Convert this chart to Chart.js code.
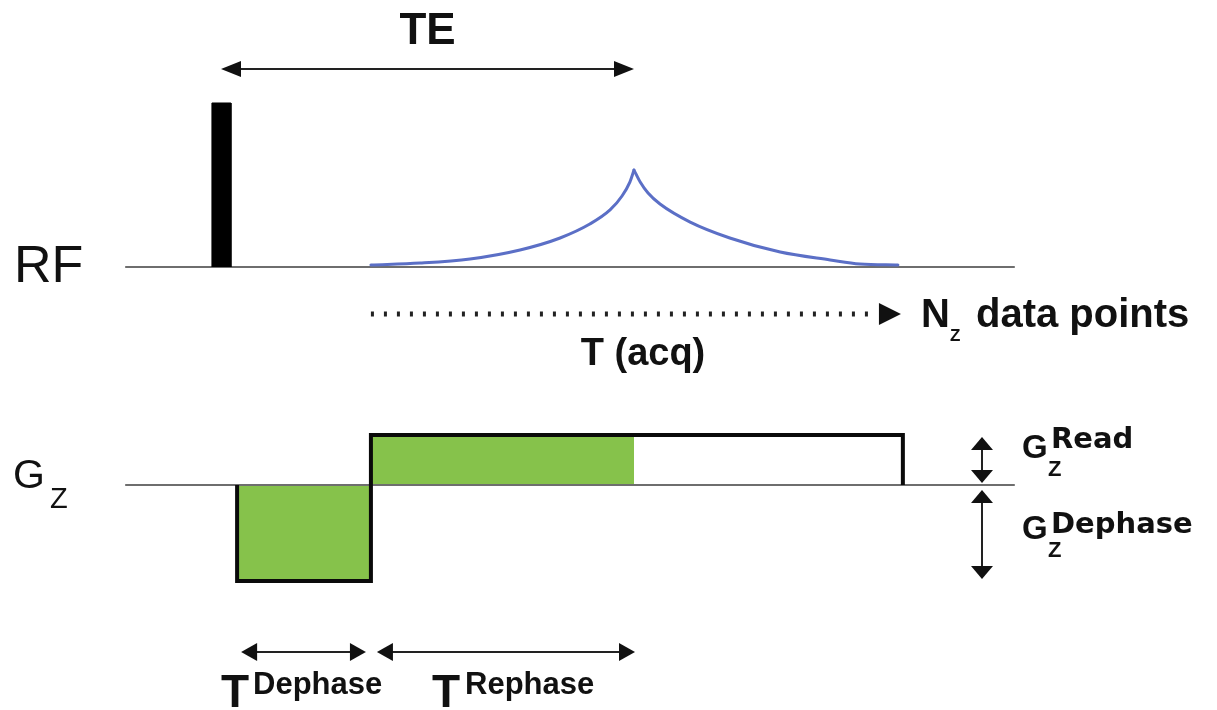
<!DOCTYPE html>
<html>
<head>
<meta charset="utf-8">
<script src="https://cdn.jsdelivr.net/npm/chart.js@4.4.0/dist/chart.umd.min.js"></script>
<style>
  html, body { margin: 0; padding: 0; background: #fff; }
  .wrap { width: 1217px; height: 710px; position: relative; }
</style>
</head>
<body>
<div class="wrap"><canvas id="seq"></canvas></div>
<script>
// times in ms (RF pulse at 0), RF in arbitrary units, gradient in mT/m
const TE = 10

const baselineT = [-2.32, 19.22]
const rfPulseT = [-0.22, -0.22, 0.24, 0.24]
const rfPulseA = [0, 1, 1, 0]

const echoRiseT = [3.63, 4.82, 6.03, 7.24, 8.21, 8.93, 9.42, 9.71, 9.90, 10.0]
const echoRiseA = [0.012, 0.024, 0.049, 0.104, 0.177, 0.262, 0.348, 0.433, 0.518, 0.591]
const echoFallT = [10.0, 10.15, 10.34, 10.63, 11.36, 12.32, 13.54, 14.75, 15.47, 16.39]
const echoFallA = [0.591, 0.518, 0.451, 0.384, 0.274, 0.177, 0.091, 0.043, 0.018, 0.012]

const acqT = [3.63, 16.39]
const acqLevel = -0.287

const gradT = [0.39, 0.39, 3.63, 3.63, 16.51, 16.51]
const gradA = [0, -19.2, -19.2, 10, 10, 0]
const dephaseFillT = [0.39, 0.39, 3.63, 3.63]
const dephaseFillA = [0, -19.2, -19.2, 0]
const rephaseFillT = [3.63, 3.63, TE, TE]
const rephaseFillA = [0, 10, 10, 0]

const G_READ = 10
const G_DEPHASE = -19.2

const toPts = (xs, ys) => xs.map((x, i) => ({x: x, y: ys[i]}))

const green = "#86c24b"
const gray = "#6e6e6e"
const blue = "#5b6fc6"
const FONT = '"Liberation Sans", Arial, sans-serif'
const WIDE = '"DejaVu Sans", Verdana, sans-serif'

function head(ctx, x, y, dx, dy, len, half) {
    // triangle with tip at (x,y) pointing in direction (dx,dy)
    ctx.beginPath()
    ctx.moveTo(x, y)
    ctx.lineTo(x - dx * len - dy * half, y - dy * len - dx * half)
    ctx.lineTo(x - dx * len + dy * half, y - dy * len + dx * half)
    ctx.closePath()
    ctx.fill()
}

function hArrow(ctx, x1, x2, y, len, half) {
    ctx.beginPath()
    ctx.moveTo(x1 + len - 2, y)
    ctx.lineTo(x2 - len + 2, y)
    ctx.stroke()
    head(ctx, x1, y, -1, 0, len, half)
    head(ctx, x2, y, 1, 0, len, half)
}

function vArrow(ctx, x, y1, y2, len, half) {
    ctx.beginPath()
    ctx.moveTo(x, y1 + len - 2)
    ctx.lineTo(x, y2 - len + 2)
    ctx.stroke()
    head(ctx, x, y1, 0, -1, len, half)
    head(ctx, x, y2, 0, 1, len, half)
}

function txt(ctx, s, x, y, font, align) {
    ctx.font = font
    ctx.textAlign = align || "left"
    ctx.textBaseline = "alphabetic"
    ctx.fillText(s, x, y)
}

const annotations = {
    id: "annotations",
    afterDatasetsDraw(chart) {
        const ctx = chart.ctx
        const x = chart.scales.x
        const yRF = chart.scales.yRF
        const yG = chart.scales.yG
        const px = v => x.getPixelForValue(v)

        ctx.save()
        ctx.strokeStyle = "#222"
        ctx.fillStyle = "#111"
        ctx.lineWidth = 2

        // TE arrow
        hArrow(ctx, px(0), px(TE), 69, 20, 8)
        txt(ctx, "TE", (px(0) + px(TE)) / 2, 44, "bold 44px " + FONT, "center")

        // acquisition window (dotted)
        const ay = yRF.getPixelForValue(acqLevel)
        ctx.save()
        ctx.setLineDash([3, 10])
        ctx.lineWidth = 5
        ctx.beginPath()
        ctx.moveTo(px(acqT[0]), ay)
        ctx.lineTo(px(acqT[1]) - 20, ay)
        ctx.stroke()
        ctx.restore()
        head(ctx, px(acqT[1]) + 3, ay, 1, 0, 22, 11)

        txt(ctx, "N", 921, 327, "bold 40px " + FONT)
        txt(ctx, "Z", 950, 341, "bold 17px " + FONT)
        txt(ctx, "data points", 976, 327, "bold 40px " + FONT)
        txt(ctx, "T (acq)", 643, 365, "bold 38px " + FONT, "center")

        // left labels
        txt(ctx, "RF", 14, 282, "52px " + FONT)
        txt(ctx, "G", 13, 488, "41px " + FONT)
        txt(ctx, "Z", 50, 508, "29px " + FONT)

        // timing arrows under gradient
        hArrow(ctx, px(dephaseFillT[0]) + 4, px(acqT[0]) - 5, 652, 16, 9)
        hArrow(ctx, px(acqT[0]) + 6, px(TE) + 1, 652, 16, 9)
        txt(ctx, "T", 221, 707, "bold 46px " + FONT)
        txt(ctx, "Dephase", 253, 694, "bold 31px " + FONT)
        txt(ctx, "T", 432, 707, "bold 46px " + FONT)
        txt(ctx, "Rephase", 465, 694, "bold 31px " + FONT)

        // gradient amplitude arrows
        const ax = 982
        vArrow(ctx, ax, yG.getPixelForValue(G_READ) + 2, yG.getPixelForValue(0) - 2, 13, 11)
        vArrow(ctx, ax, yG.getPixelForValue(0) + 5, yG.getPixelForValue(G_DEPHASE) - 2, 13, 11)

        txt(ctx, "G", 1022, 458, "bold 33px " + FONT)
        txt(ctx, "Z", 1048, 476, "bold 22px " + FONT)
        txt(ctx, "Read", 1051, 448, "bold 29px " + WIDE)
        txt(ctx, "G", 1022, 539, "bold 33px " + FONT)
        txt(ctx, "Z", 1048, 557, "bold 22px " + FONT)
        txt(ctx, "Dephase", 1051, 533, "bold 29px " + WIDE)

        ctx.restore()
    }
}

const lineBase = {pointRadius: 0, tension: 0, fill: false}
const echoStyle = {yAxisID: "yRF", borderColor: blue, borderWidth: 3, borderCapStyle: "round", cubicInterpolationMode: "monotone", order: 1}

new Chart(document.getElementById("seq"), {
    type: "line",
    data: {
        datasets: [
            {...lineBase, data: toPts(baselineT, [0, 0]), yAxisID: "yRF", borderColor: gray, borderWidth: 2, order: 4},
            {...lineBase, data: toPts(rfPulseT, rfPulseA), yAxisID: "yRF", borderColor: "#000", backgroundColor: "#000", borderWidth: 1, fill: "origin", order: 2},
            {...lineBase, ...echoStyle, data: toPts(echoRiseT, echoRiseA)},
            {...lineBase, ...echoStyle, data: toPts(echoFallT, echoFallA)},
            {...lineBase, data: toPts(dephaseFillT, dephaseFillA), yAxisID: "yG", borderWidth: 0, borderColor: green, backgroundColor: green, fill: "origin", order: 6},
            {...lineBase, data: toPts(rephaseFillT, rephaseFillA), yAxisID: "yG", borderWidth: 0, borderColor: green, backgroundColor: green, fill: "origin", order: 6},
            {...lineBase, data: toPts(baselineT, [0, 0]), yAxisID: "yG", borderColor: gray, borderWidth: 2, order: 5},
            {...lineBase, data: toPts(gradT, gradA), yAxisID: "yG", borderColor: "#0a0a0a", borderWidth: 4, borderJoinStyle: "miter", order: 1}
        ]
    },
    options: {
        responsive: true,
        maintainAspectRatio: false,
        animation: false,
        layout: {padding: 0},
        plugins: {legend: {display: false}, tooltip: {enabled: false}},
        scales: {
            x: {type: "linear", display: false, min: -5.351, max: 24.116},
            yRF: {type: "linear", display: false, position: "left", min: -2.701, max: 1.628},
            yG: {type: "linear", display: false, position: "right", min: -45, max: 97}
        }
    },
    plugins: [annotations]
})
</script>
</body>
</html>
